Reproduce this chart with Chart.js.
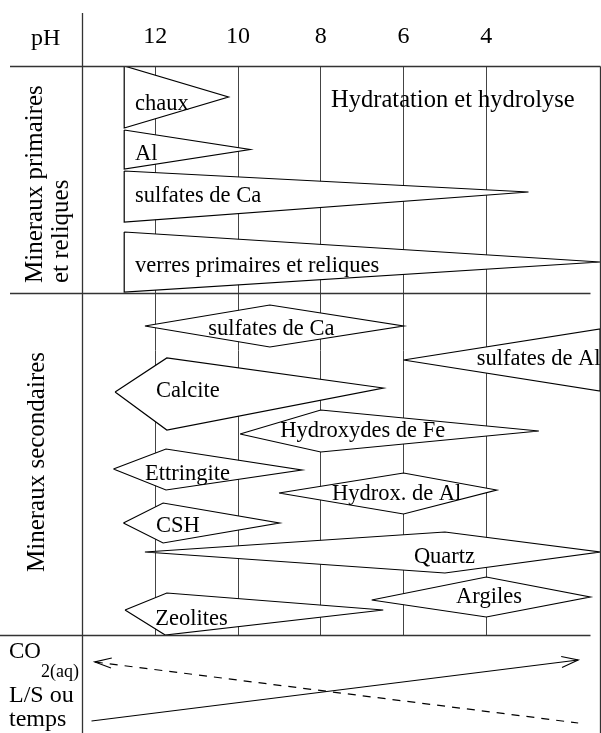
<!DOCTYPE html>
<html>
<head>
<meta charset="utf-8">
<script src="https://cdn.jsdelivr.net/npm/chart.js@4.4.0/dist/chart.umd.min.js"></script>
<style>
  html, body { margin: 0; padding: 0; background: #fff; }
  #chart { display: block; }
</style>
</head>
<body>
<canvas id="chart" width="601" height="733"></canvas>
<script>
// pH ticks along the top
const phTicks = [12, 10, 8, 6, 4];

// Mineraux primaires et reliques : outline points as [pH, row]
const primaryNames = ['chaux', 'Al', 'sulfates de Ca', 'verres primaires et reliques'];
const primaryShapes = [
  [[12.75, 66], [10.23, 97], [12.75, 128]],
  [[12.75, 130], [9.71, 149.5], [12.75, 169]],
  [[12.75, 171], [2.98, 192], [12.75, 222]],
  [[12.75, 232], [1.25, 262], [12.75, 292]]
];
const primaryLabelAt = [[12.49, 110], [12.49, 160], [12.49, 202], [12.49, 272]];

// Mineraux secondaires
const secondaryNames = ['sulfates de Ca', 'sulfates de Al', 'Calcite', 'Hydroxydes de Fe', 'Ettringite',
  'Hydrox. de Al', 'CSH', 'Quartz', 'Argiles', 'Zeolites'];
const secondaryShapes = [
  [[12.25, 326], [9.23, 305], [6.0, 326], [9.23, 347]],
  [[6.0, 360], [1.25, 329], [1.25, 391]],
  [[12.97, 392], [11.72, 358], [6.49, 388], [11.72, 430]],
  [[9.95, 434], [8.0, 410], [2.73, 431], [8.0, 452]],
  [[13.01, 469], [11.74, 449], [8.46, 470], [11.74, 490]],
  [[9.01, 493], [6.0, 473], [3.75, 490], [6.0, 514]],
  [[12.77, 523], [11.81, 503], [9.0, 523], [11.81, 543]],
  [[12.25, 552], [5.0, 532], [1.25, 552], [5.0, 573]],
  [[6.77, 600], [4.0, 577], [1.49, 597], [4.0, 617]],
  [[12.73, 610], [11.72, 593], [6.49, 610], [11.76, 635]]
];
const secondaryLabelAt = [[10.72, 335], [4.23, 365], [11.98, 397], [8.98, 437], [12.25, 480],
  [7.73, 500], [11.98, 532], [5.75, 563], [4.73, 603], [12.0, 625]];

// CO2(aq) and L/S ou temps trends
const co2Line = [[13.46, 662], [1.78, 723]];
const co2Head = [[13.05, 658], [13.46, 662], [13.07, 668]];
const lsLine = [[13.54, 721], [1.78, 660]];
const lsHead = [[2.19, 656.5], [1.78, 660], [2.17, 667.5]];

const dividerRow = 293;
const serif = "'Liberation Serif', 'Times New Roman', serif";

function toPoints(pts) {
  return pts.map(([ph, row]) => ({ x: ph, y: row }));
}

function shapeSet(name, pts) {
  return {
    label: name,
    data: toPoints(pts.concat([pts[0]])),
    borderColor: '#000',
    borderWidth: 1.2,
    backgroundColor: '#fff',
    fill: 'shape',
    pointRadius: 0,
    tension: 0
  };
}

function trendSet(name, pts, dash) {
  return {
    label: name,
    data: toPoints(pts),
    borderColor: '#000',
    borderWidth: 1.2,
    borderDash: dash || [],
    fill: false,
    pointRadius: 0,
    tension: 0,
    clip: false
  };
}

const datasets = [];
primaryShapes.forEach((pts, i) => datasets.push(shapeSet(primaryNames[i], pts)));
secondaryShapes.forEach((pts, i) => datasets.push(shapeSet(secondaryNames[i], pts)));
datasets.push(trendSet('CO2(aq)', co2Line, [8, 7]));
datasets.push(trendSet('CO2 head', co2Head));
datasets.push(trendSet('L/S ou temps', lsLine));
datasets.push(trendSet('L/S head', lsHead));

const diagramText = {
  id: 'diagramText',
  afterDatasetsDraw(chart) {
    const { ctx, chartArea, scales: { x, y } } = chart;
    const left = Math.round(chartArea.left) + 0.5;
    const right = Math.round(chartArea.right) - 0.5;
    ctx.save();

    // frame
    ctx.strokeStyle = '#333';
    ctx.lineWidth = 1.3;
    ctx.beginPath();
    ctx.moveTo(left, 13); ctx.lineTo(left, chart.height);
    ctx.moveTo(right, Math.round(chartArea.top) + 0.5); ctx.lineTo(right, chart.height);
    const top = Math.round(chartArea.top) + 0.5;
    const mid = Math.round(y.getPixelForValue(dividerRow)) + 0.5;
    const bottom = Math.round(chartArea.bottom) + 0.5;
    ctx.moveTo(10, top); ctx.lineTo(right, top);
    ctx.moveTo(10, mid); ctx.lineTo(right - 10, mid);
    ctx.moveTo(0, bottom); ctx.lineTo(right - 10, bottom);
    ctx.stroke();

    // labels inside shapes
    ctx.fillStyle = '#000';
    ctx.textAlign = 'left';
    ctx.textBaseline = 'alphabetic';
    ctx.font = `22.5px ${serif}`;
    primaryNames.forEach((name, i) => {
      const [ph, row] = primaryLabelAt[i];
      ctx.fillText(name, x.getPixelForValue(ph), y.getPixelForValue(row));
    });
    ctx.font = `22.5px ${serif}`;
    secondaryNames.forEach((name, i) => {
      const [ph, row] = secondaryLabelAt[i];
      ctx.fillText(name, x.getPixelForValue(ph), y.getPixelForValue(row));
    });
    ctx.font = `24.5px ${serif}`;
    ctx.fillText('Hydratation et hydrolyse', x.getPixelForValue(7.75), y.getPixelForValue(107));

    // side titles
    ctx.font = `24px ${serif}`;
    ctx.fillText('pH', 31, 45);

    const vText = (str, px, py) => {
      ctx.save();
      ctx.translate(px, py);
      ctx.rotate(-Math.PI / 2);
      ctx.fillText(str, 0, 0);
      ctx.restore();
    };
    ctx.font = `25px ${serif}`;
    vText('Mineraux primaires', 42, 283);
    vText('et reliques', 68, 283);
    vText('Mineraux secondaires', 44, 572);

    ctx.font = `23px ${serif}`;
    ctx.fillText('CO', 9, 658);
    const w = ctx.measureText('CO').width;
    ctx.font = `18px ${serif}`;
    ctx.fillText('2(aq)', 9 + w, 677);
    ctx.font = `24px ${serif}`;
    ctx.fillText('L/S ou', 9, 702);
    ctx.fillText('temps', 9, 726);

    ctx.restore();
  }
};

new Chart(document.getElementById('chart'), {
  type: 'line',
  data: { datasets: datasets },
  options: {
    responsive: false,
    maintainAspectRatio: false,
    devicePixelRatio: 1,
    animation: false,
    events: [],
    layout: { padding: { left: 82, right: 0, top: 0, bottom: 98 } },
    scales: {
      x: {
        type: 'linear',
        position: 'top',
        min: 1.228,
        max: 13.77,
        reverse: true,
        afterBuildTicks: (axis) => { axis.ticks = phTicks.map(v => ({ value: v })); },
        afterFit: (axis) => { axis.height = 66; },
        ticks: {
          autoSkip: false,
          maxRotation: 0,
          padding: 15,
          color: '#000',
          font: { family: serif, size: 24 }
        },
        grid: { color: '#444', lineWidth: 1, drawTicks: false },
        border: { display: false }
      },
      y: {
        type: 'linear',
        min: 66,
        max: 635,
        reverse: true,
        display: false
      }
    },
    plugins: {
      legend: { display: false },
      tooltip: { enabled: false }
    }
  },
  plugins: [diagramText]
});
</script>
</body>
</html>
